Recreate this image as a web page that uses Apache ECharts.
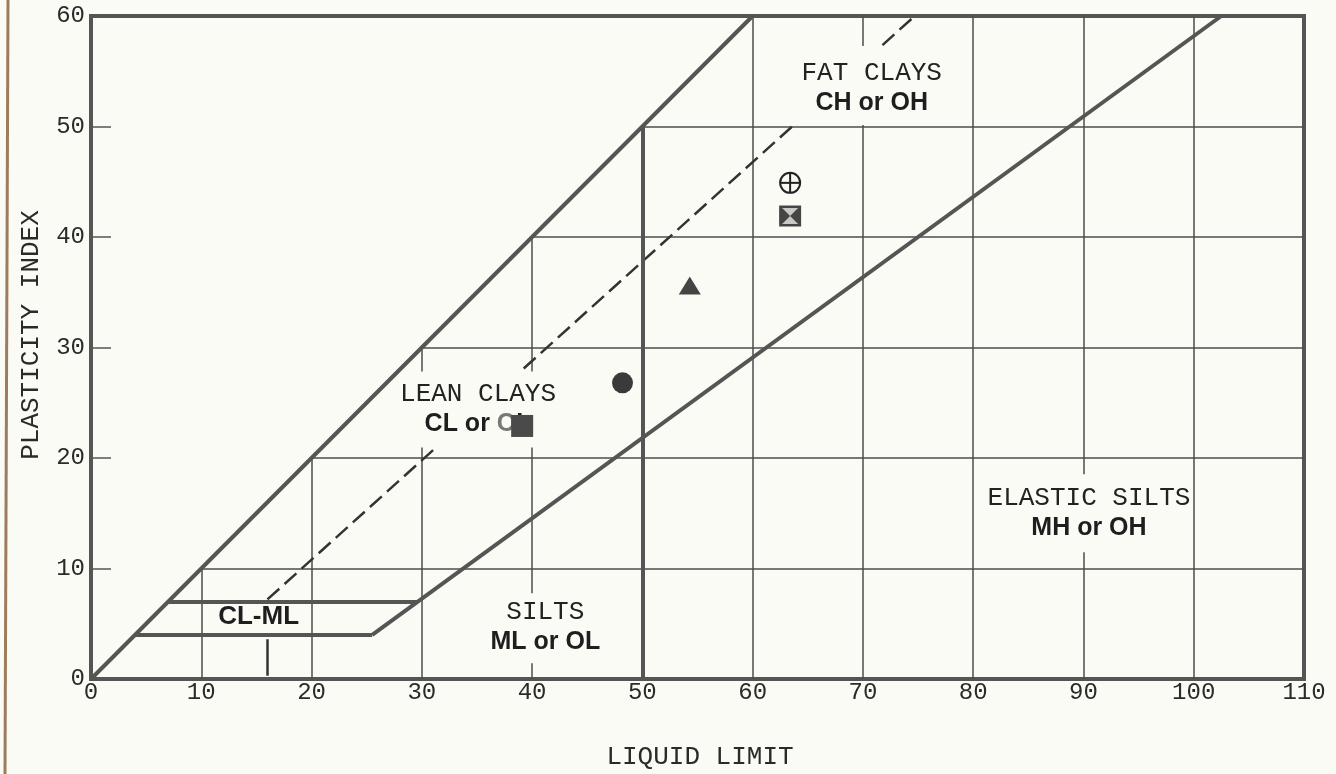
<!DOCTYPE html>
<html><head><meta charset="utf-8">
<script src="https://cdn.jsdelivr.net/npm/echarts@6/dist/echarts.min.js"></script>
<style>html,body{margin:0;padding:0;background:#fbfbf6;} #c{width:1336px;height:774px;}</style>
</head><body><div id="c"></div>
<script>
// ---- axis ticks ----
const xTickValues = [0,10,20,30,40,50,60,70,80,90,100,110];
const yTickValues = [0,10,20,30,40,50,60];
// ---- chart boundary lines, [LL, PI] ----
const upperBoundLine = [[0,0],[60,60]];
const aLine = [[25.5,4],[102.5,60]];
const ll50Line = [[50,0],[50,50]];
const clmlLower = [[4,4],[25.5,4]];
const clmlUpper = [[7,7],[29.6,7]];
const uLine = [[16,7.2],[74.7,60]];
const uLineFoot = [[16,0.3],[16,3.6]];
// ---- sample points ----
const sampleLL = [39.1, 48.2, 54.3, 63.4, 63.4];
const samplePI = [22.9, 26.8, 35.6, 41.9, 44.9];
// ---- zone labels ----
const zoneTitles = ['FAT CLAYS','LEAN CLAYS','SILTS','ELASTIC SILTS'];
const zoneCodes = ['CH or OH','CL or OL','ML or OL','MH or OH'];
const zoneLL = [70.8, 35.1, 41.2, 90.5];
const zonePI = [53.7, 24.4, 4.6, 15.0];
const clmlText = 'CL-ML';
const clmlPos = [15.2, 5.6];

const gridSegs = [];
xTickValues.forEach(x => { if (x > 0 && x < 110 && x !== 50) gridSegs.push({coords: [[x,0],[x,Math.min(x,60)]]}); });
yTickValues.forEach(y => { if (y > 0 && y < 60) gridSegs.push({coords: [[y,y],[110,y]]}); });
const thickSegs = [upperBoundLine, aLine, ll50Line, clmlLower, clmlUpper].map(c => ({coords: c}));

const zonePads = [[12,12,7,12],[8,10,8,10],[4,12,6,12],[9,2,9,2]];
const zoneData = zoneTitles.map((t,i) => ({
  value: [zoneLL[i], zonePI[i]],
  label: {padding: zonePads[i]}
}));

const chart = echarts.init(document.getElementById('c'));
chart.setOption({
  backgroundColor: '#fbfbf6',
  animation: false,
  grid: {left: 91, right: 32, top: 16, bottom: 95, show: true, borderColor: '#555', borderWidth: 4, backgroundColor: 'transparent'},
  xAxis: {
    type: 'value', min: 0, max: 110, interval: 10,
    axisLine: {show: false}, axisTick: {show: false}, splitLine: {show: false},
    axisLabel: {margin: 2, fontFamily: 'Liberation Mono', fontSize: 24, color: '#2a2a2a'}
  },
  yAxis: {
    type: 'value', min: 0, max: 60, interval: 10,
    axisLine: {show: false}, splitLine: {show: false},
    axisTick: {show: true, inside: true, length: 20, lineStyle: {color: '#555', width: 1.5}},
    axisLabel: {margin: 6, fontFamily: 'Liberation Mono', fontSize: 24, color: '#2a2a2a'}
  },
  graphic: [
    {type: 'line', shape: {x1: 8, y1: 0, x2: 5, y2: 774}, style: {stroke: '#9c7c5c', lineWidth: 3}},
    {type: 'text', x: 700, y: 757, style: {text: 'LIQUID LIMIT', fontFamily: 'Liberation Mono', fontSize: 26, fill: '#2a2a2a', align: 'center', verticalAlign: 'middle'}},
    {type: 'text', x: 31, y: 335, rotation: Math.PI/2, style: {text: 'PLASTICITY INDEX', fontFamily: 'Liberation Mono', fontSize: 26, fill: '#2a2a2a', align: 'center', verticalAlign: 'middle'}}
  ],
  series: [
    {type: 'lines', coordinateSystem: 'cartesian2d', z: 2, silent: true, data: gridSegs,
     lineStyle: {color: '#4d4d4d', width: 1.5, opacity: 1}},
    {type: 'lines', coordinateSystem: 'cartesian2d', z: 2, silent: true, data: [{coords: uLine}],
     lineStyle: {color: '#333', width: 2.5, type: [16,7], opacity: 1}},
    {type: 'lines', coordinateSystem: 'cartesian2d', z: 2, silent: true, data: [{coords: uLineFoot}],
     lineStyle: {color: '#333', width: 2.5, opacity: 1}},
    {type: 'scatter', z: 3, silent: true, symbolSize: 1, itemStyle: {color: 'rgba(0,0,0,0)', opacity: 1},
     data: zoneData,
     label: {show: true, position: 'inside', align: 'center', verticalAlign: 'middle',
       backgroundColor: '#fbfbf6',
       formatter: p => {
         const i = p.dataIndex;
         const code = i === 1 ? '{c|CL or }{g|O}{c|L}' : '{c|' + zoneCodes[i] + '}';
         return '{t|' + zoneTitles[i] + '}\n' + code;
       },
       rich: {
         t: {fontFamily: 'Liberation Mono', fontSize: 26, color: '#222', lineHeight: 30, align: 'center'},
         c: {fontFamily: 'Liberation Sans', fontWeight: 'bold', fontSize: 25, color: '#1e1e1e', lineHeight: 30, align: 'center'},
         g: {fontFamily: 'Liberation Sans', fontWeight: 'bold', fontSize: 25, color: '#777', lineHeight: 30, align: 'center'}
       }}},
    {type: 'scatter', z: 3, silent: true, symbolSize: 1, itemStyle: {color: 'rgba(0,0,0,0)', opacity: 1},
     data: [clmlPos],
     label: {show: true, position: 'inside', formatter: clmlText,
       fontFamily: 'Liberation Sans', fontWeight: 'bold', fontSize: 26, color: '#1e1e1e'}},
    {type: 'lines', coordinateSystem: 'cartesian2d', z: 4, silent: true, data: thickSegs,
     lineStyle: {color: '#555', width: 4, opacity: 1}},
    {type: 'scatter', z: 5, silent: true, symbol: 'rect', symbolSize: 22, itemStyle: {color: '#4a4a4a', opacity: 1},
     data: [[sampleLL[0], samplePI[0]]]},
    {type: 'scatter', z: 5, silent: true, symbol: 'circle', symbolSize: 21, itemStyle: {color: '#3a3a3a', opacity: 1},
     data: [[sampleLL[1], samplePI[1]]]},
    {type: 'scatter', z: 5, silent: true, symbol: 'triangle', symbolSize: [22,18], itemStyle: {color: '#444', opacity: 1},
     data: [[sampleLL[2], samplePI[2]]]},
    {type: 'custom', z: 5, silent: true, data: [[sampleLL[3], samplePI[3]]],
     renderItem: (params, api) => {
       const p = api.coord([api.value(0), api.value(1)]);
       const x = p[0], y = p[1];
       return {type: 'group', children: [
         {type: 'rect', shape: {x: x-11, y: y-10.5, width: 22, height: 21}, style: {fill: '#454545'}},
         {type: 'polygon', shape: {points: [[x-8,y-8],[x+8,y-8],[x,y]]}, style: {fill: '#c8c8c4'}},
         {type: 'polygon', shape: {points: [[x-8,y+8],[x+8,y+8],[x,y]]}, style: {fill: '#c8c8c4'}}
       ]};
     }},
    {type: 'custom', z: 5, silent: true, data: [[sampleLL[4], samplePI[4]]],
     renderItem: (params, api) => {
       const p = api.coord([api.value(0), api.value(1)]);
       const x = p[0], y = p[1];
       return {type: 'group', children: [
         {type: 'circle', shape: {cx: x, cy: y, r: 10}, style: {fill: 'none', stroke: '#222', lineWidth: 2}},
         {type: 'line', shape: {x1: x-10, y1: y, x2: x+10, y2: y}, style: {stroke: '#222', lineWidth: 2}},
         {type: 'line', shape: {x1: x, y1: y-10, x2: x, y2: y+10}, style: {stroke: '#222', lineWidth: 2}}
       ]};
     }}
  ]
});
</script>
</body></html>
